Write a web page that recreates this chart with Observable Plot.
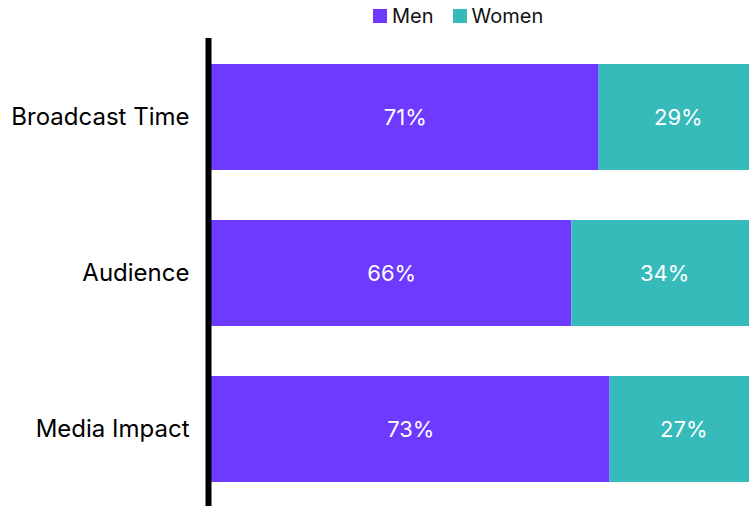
<!DOCTYPE html>
<html>
<head>
<meta charset="utf-8">
<script src="https://cdn.jsdelivr.net/npm/d3@7"></script>
<script src="https://cdn.jsdelivr.net/npm/@observablehq/plot@0.6"></script>
<style>
  html, body { margin: 0; padding: 0; background: #fff; overflow: hidden; }
  body { width: 749px; height: 506px; position: relative; font-family: Inter, sans-serif; }
  #legend { position: absolute; left: 373px; top: 2px; display: flex; align-items: center; font-size: 20px; color: #111; z-index: 2; line-height: 28px; }
  .item { display: flex; align-items: center; margin-right: 19px; }
  .sw { width: 14px; height: 14px; margin-right: 5px; }
  #chart { position: absolute; left: 0; top: 0; }
</style>
</head>
<body>
<div id="legend"></div>
<div id="chart"></div>
<script>
const categories = ["Broadcast Time", "Audience", "Media Impact"];
const series = ["Men", "Women"];
const menValues = [71, 66, 73];
const womenValues = [29, 34, 27];
const colors = ["#6e3aff", "#36baba"];

const data = [];
categories.forEach((c, i) => {
  data.push({category: c, gender: "Men", value: menValues[i]});
  data.push({category: c, gender: "Women", value: womenValues[i]});
});

const legend = document.getElementById("legend");
series.forEach((s, i) => {
  const it = document.createElement("div");
  it.className = "item";
  const sw = document.createElement("div");
  sw.className = "sw";
  sw.style.background = colors[i];
  const t = document.createElement("span");
  t.textContent = s;
  it.appendChild(sw);
  it.appendChild(t);
  legend.appendChild(it);
});

const chart = Plot.plot({
  width: 749,
  height: 506,
  marginTop: 38,
  marginBottom: 0,
  marginLeft: 211,
  marginRight: 0,
  style: {fontFamily: "Inter, sans-serif", background: "transparent"},
  x: {domain: [0, 100], range: [211, 757], axis: null},
  y: {domain: categories, range: [13, 534], paddingInner: 0.32, paddingOuter: 0.32, label: null},
  color: {domain: series, range: colors},
  marks: [
    Plot.barX(data, {y: "category", x: "value", fill: "gender", order: series}),
    Plot.text(data, Plot.stackX({y: "category", x: "value", z: "gender", order: series, text: d => d.value + "%", fill: "white", fontSize: 22})),
    Plot.axisY({tickSize: 0, tickPadding: 22, fontSize: 24, fill: "black", label: null}),
    Plot.ruleX([0], {dx: -3, stroke: "black", strokeWidth: 6})
  ]
});
document.getElementById("chart").appendChild(chart);
</script>
</body>
</html>
